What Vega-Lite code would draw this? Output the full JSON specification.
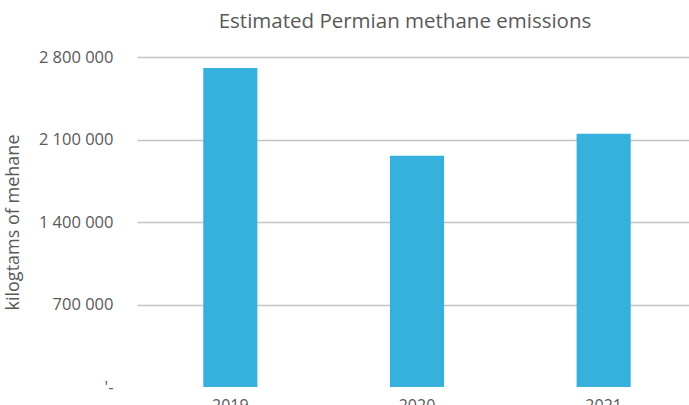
{
  "$schema": "https://vega.github.io/schema/vega-lite/v6.json",
  "autosize": {"type": "none"},
  "padding": {"left": 137, "top": 57, "right": 0, "bottom": 18},
  "width": 560,
  "height": 330,
  "background": "white",
  "title": {
    "text": "Estimated Permian methane emissions",
    "anchor": "middle",
    "frame": "group",
    "dx": -12,
    "offset": 17,
    "font": "Open Sans",
    "fontSize": 20.5,
    "fontWeight": "normal",
    "color": "#595959"
  },
  "data": {
    "values": [
      {"year": "2019", "emissions": 2707000},
      {"year": "2020", "emissions": 1962000},
      {"year": "2021", "emissions": 2148000}
    ]
  },
  "mark": {"type": "bar", "color": "#36b1de"},
  "encoding": {
    "x": {
      "field": "year",
      "type": "nominal",
      "scale": {"paddingInner": 0.71, "paddingOuter": 0.355},
      "axis": {
        "title": null,
        "labelAngle": 0,
        "ticks": false,
        "domain": false,
        "labelPadding": 10,
        "labelFont": "Open Sans",
        "labelFontSize": 16,
        "labelColor": "#595959"
      }
    },
    "y": {
      "field": "emissions",
      "type": "quantitative",
      "scale": {"domain": [0, 2800000], "nice": false},
      "axis": {
        "title": "kilogtams of mehane",
        "titleFont": "Open Sans",
        "titleFontSize": 18,
        "titleFontWeight": "normal",
        "titleColor": "#595959",
        "titlePadding": 16,
        "values": [0, 700000, 1400000, 2100000, 2800000],
        "labelExpr": "datum.value == 0 ? \"'-\" : replace(format(datum.value, ','), /,/g, ' ')",
        "ticks": false,
        "domain": false,
        "labelPadding": 24,
        "labelFont": "Open Sans",
        "labelFontSize": 16.5,
        "labelColor": "#595959",
        "grid": true,
        "gridColor": "#c4c4c4",
        "gridWidth": 1.5,
        "gridOpacity": {"condition": {"test": "datum.value == 0", "value": 0}, "value": 1}
      }
    }
  },
  "config": {"view": {"stroke": null}}
}
